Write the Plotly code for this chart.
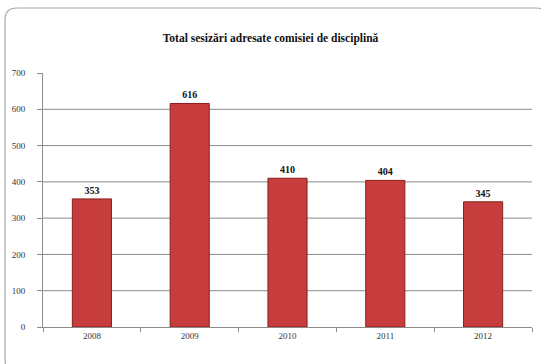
import plotly.graph_objects as go

years = ["2008", "2009", "2010", "2011", "2012"]
values = [353, 616, 410, 404, 345]
y_ticks = [0, 100, 200, 300, 400, 500, 600, 700]
title_text = "Total sesizări adresate comisiei de disciplină"

W, H = 541, 364
L, R, T, B = 43, 9, 73, 37
pw, ph = W - L - R, H - T - B

def px2paper(px, py):
    return (px - L) / pw, (H - B - py) / ph

def rounded_path(x0, y0, x1, y1, r):
    def P(x, y):
        a, b = px2paper(x, y)
        return f"{a:.5f},{b:.5f}"
    s = f"M {P(x0 + r, y0)} L {P(x1 - r, y0)} Q {P(x1, y0)} {P(x1, y0 + r)} "
    s += f"L {P(x1, y1 - r)} Q {P(x1, y1)} {P(x1 - r, y1)} "
    s += f"L {P(x0 + r, y1)} Q {P(x0, y1)} {P(x0, y1 - r)} "
    s += f"L {P(x0, y0 + r)} Q {P(x0, y0)} {P(x0 + r, y0)} Z"
    return s

serif = "Liberation Serif, Times New Roman, serif"

fig = go.Figure()
fig.add_trace(go.Bar(
    x=years, y=values,
    width=0.4,
    marker=dict(color="#c73d3d", line=dict(color="#8a1e1e", width=1)),
    text=[f"<b>{v}</b>" for v in values],
    textposition="outside",
    textfont=dict(family=serif, size=10, color="#111111"),
    outsidetextfont=dict(family=serif, size=10, color="#111111"),
    cliponaxis=False,
))

shapes = [dict(type="path", path=rounded_path(5, 8, 548, 372, 12),
               xref="paper", yref="paper",
               line=dict(color="#a8a8a8", width=1.2), fillcolor="rgba(0,0,0,0)",
               layer="below")]
for v in y_ticks[1:-1]:
    shapes.append(dict(type="line", xref="paper", yref="y", x0=0, x1=1, y0=v, y1=v,
                       line=dict(color="#8c8c8c", width=1), layer="below"))

fig.update_layout(
    width=W, height=H,
    margin=dict(l=L, r=R, t=T, b=B),
    paper_bgcolor="white", plot_bgcolor="white",
    showlegend=False,
    font=dict(family=serif),
    title=dict(text=f"<b>{title_text}</b>", x=0.5, xanchor="center",
               y=1 - 38 / H, yanchor="middle", yref="container",
               font=dict(family=serif, size=11.5, color="#111111")),
    shapes=shapes,
)
fig.update_xaxes(
    showline=True, linecolor="#8c8c8c", linewidth=1,
    ticks="outside", ticklen=4, tickcolor="#8c8c8c",
    tickson="boundaries",
    tickfont=dict(family=serif, size=9, color="#333333"),
    showgrid=False,
)
fig.update_yaxes(
    range=[0, 700], tickvals=y_ticks,
    showline=True, linecolor="#8c8c8c", linewidth=1,
    ticks="outside", ticklen=5, tickcolor="#8c8c8c",
    ticklabelstandoff=10,
    tickfont=dict(family=serif, size=9, color="#333333"),
    showgrid=False,
    zeroline=False,
)
fig.write_html("out.html")
